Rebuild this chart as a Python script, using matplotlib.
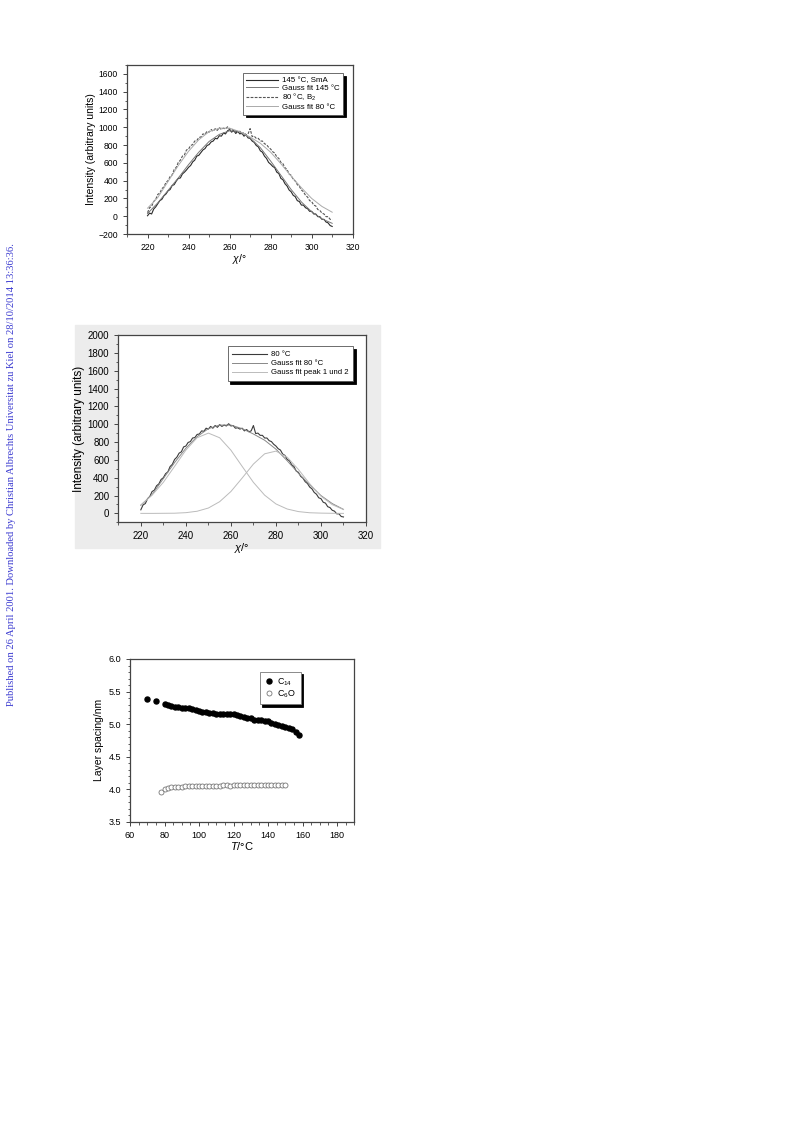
import numpy as np
import matplotlib
matplotlib.use('Agg')
import matplotlib.pyplot as plt
from matplotlib.patches import Rectangle
from matplotlib.ticker import MultipleLocator

plt.rcParams['font.family'] = ['Liberation Sans', 'DejaVu Sans']
plt.rcParams['mathtext.fontset'] = 'custom'
plt.rcParams['mathtext.it'] = 'Liberation Sans:italic'
plt.rcParams['mathtext.rm'] = 'Liberation Sans'

# --- data: azimuthal scans (1 degree steps, 220..310) ---
chi = list(range(220, 311))
i_145 = [5, 35, 25, 80, 105, 140, 175, 190, 230, 250,
         285, 300, 345, 355, 395, 425, 430, 475, 495, 520,
         550, 570, 610, 630, 675, 685, 715, 745, 760, 795,
         805, 835, 845, 875, 870, 905, 900, 935, 925, 960,
         975, 945, 965, 930, 955, 925, 935, 900, 915, 880,
         875, 845, 830, 795, 780, 735, 720, 675, 650, 605,
         585, 560, 545, 495, 480, 425, 410, 365, 340, 295,
         275, 235, 220, 175, 165, 125, 125, 95, 85, 55,
         55, 25, 25, -5, -5, -35, -35, -65, -75, -105, -115]
i_80 = [40, 95, 110, 165, 190, 245, 260, 310, 330, 380,
        400, 445, 465, 525, 550, 605, 630, 675, 690, 745,
        755, 795, 805, 845, 850, 885, 890, 925, 920, 955,
        945, 975, 955, 985, 965, 995, 975, 990, 980, 1005,
        980, 985, 955, 960, 945, 955, 925, 940, 915, 925,
        985, 895, 900, 875, 875, 845, 845, 815, 805, 775,
        755, 725, 710, 665, 650, 605, 590, 545, 525, 475,
        460, 415, 395, 355, 335, 295, 275, 235, 215, 175,
        165, 125, 115, 75, 65, 35, 25, -5, -5, -35, -40]

# fits, 5 degree steps
chi_fit = list(range(220, 311, 5))
fit_145 = [30, 150, 290, 430, 580, 720, 840, 920, 960, 950,
           880, 770, 620, 460, 300, 160, 50, -30, -80]
fit_80 = [90, 210, 390, 570, 730, 860, 950, 990, 990, 950,
          890, 820, 720, 590, 450, 320, 200, 110, 45]
peak_1 = [95, 204, 348, 527, 709, 848, 900, 848, 709, 527,
          348, 204, 106, 49, 20, 7, 3, 1, 0]
peak_2 = [0, 0, 1, 2, 8, 24, 60, 131, 245, 396,
          553, 668, 698, 630, 492, 332, 193, 98, 43]

# --- data: layer spacing vs temperature ---
t_c14 = [70, 75] + list(range(80, 159, 2))
d_c14 = [5.39, 5.36,
         5.31, 5.29, 5.28, 5.27, 5.26, 5.25, 5.24, 5.24, 5.23, 5.22,
         5.20, 5.19, 5.18, 5.17, 5.17, 5.16, 5.16, 5.16, 5.16, 5.16,
         5.15, 5.14, 5.12, 5.11, 5.10, 5.09, 5.07, 5.06, 5.06, 5.05,
         5.04, 5.02, 5.00, 4.98, 4.97, 4.95, 4.94, 4.92, 4.88, 4.83]
t_c6o = list(range(78, 151, 2))
d_c6o = [3.96, 4.00, 4.02, 4.03, 4.04, 4.04, 4.04, 4.05, 4.05, 4.05,
         4.05, 4.05, 4.05, 4.05, 4.05, 4.05, 4.05, 4.05, 4.07, 4.07,
         4.05, 4.06, 4.06, 4.06, 4.06, 4.06, 4.06, 4.06, 4.06, 4.06,
         4.06, 4.06, 4.06, 4.06, 4.06, 4.06, 4.06]

fig = plt.figure(figsize=(7.93, 11.21), dpi=100)

# grey panel behind the second chart
fig.patches.append(Rectangle((75 / 793, 1 - 548 / 1121), 305 / 793, 223 / 1121,
                             transform=fig.transFigure, color='#ececec', zorder=-10))

def style_axes(ax, fs):
    for s in ax.spines.values():
        s.set_color('#444444')
        s.set_linewidth(0.9)
    ax.tick_params(which='both', direction='out', labelsize=fs, color='#444444',
                   top=False, right=False)
    ax.tick_params(which='major', length=3, width=0.7)
    ax.tick_params(which='minor', length=1.8, width=0.6)

def boxed_legend(ax, fs, anchor, hl, ls, bp, edge):
    leg = ax.legend(loc='upper right', fontsize=fs, frameon=True, fancybox=False,
                    shadow={'color': 'k', 'alpha': 1}, handlelength=hl,
                    borderpad=bp, labelspacing=ls, handletextpad=0.5,
                    bbox_to_anchor=anchor)
    leg.get_frame().set_edgecolor(edge)
    leg.get_frame().set_linewidth(0.6)
    return leg

# chart 1
ax1 = fig.add_axes([127 / 793, 1 - 234 / 1121, 225.7 / 793, 169 / 1121])
ax1.plot(chi, i_145, color='#2a2a2a', lw=0.8, label='145 °C, SmA')
ax1.plot(chi_fit, fit_145, color='#777777', lw=0.7, label='Gauss fit 145 °C')
ax1.plot(chi, i_80, color='#555555', lw=0.8, ls=(0, (2.5, 1.2)), label='80 °C, B$_2$')
ax1.plot(chi_fit, fit_80, color='#aaaaaa', lw=0.7, label='Gauss fit 80 °C')
ax1.set_xlim(210, 320)
ax1.set_ylim(-200, 1700)
ax1.xaxis.set_major_locator(MultipleLocator(20))
ax1.xaxis.set_minor_locator(MultipleLocator(10))
ax1.set_yticks(np.arange(-200, 1601, 200))
ax1.yaxis.set_minor_locator(MultipleLocator(100))
style_axes(ax1, 6.2)
ax1.set_ylabel('Intensity (arbitrary units)', fontsize=7.5, labelpad=2)
ax1.set_xlabel(r'$\chi$/°', fontsize=7.5, labelpad=0)
boxed_legend(ax1, 5.7, (0.975, 0.975), 4, 0.02, 0.45, '#555555')

# chart 2
ax2 = fig.add_axes([118.3 / 793, 1 - 522.3 / 1121, 247.7 / 793, 187.3 / 1121])
ax2.plot(chi, i_80, color='#3a3a3a', lw=0.8, label='80 °C')
ax2.plot(chi_fit, fit_80, color='#888888', lw=0.7, label='Gauss fit 80 °C')
ax2.plot(chi_fit, peak_1, color='#bbbbbb', lw=0.7, label='Gauss fit peak 1 und 2')
ax2.plot(chi_fit, peak_2, color='#bbbbbb', lw=0.7)
ax2.set_xlim(210, 320)
ax2.set_ylim(-100, 2000)
ax2.xaxis.set_major_locator(MultipleLocator(20))
ax2.xaxis.set_minor_locator(MultipleLocator(10))
ax2.set_yticks(np.arange(0, 2001, 200))
ax2.yaxis.set_minor_locator(MultipleLocator(100))
style_axes(ax2, 7)
ax2.set_ylabel('Intensity (arbitrary units)', fontsize=8.5, labelpad=2)
ax2.set_xlabel(r'$\chi$/°', fontsize=8, labelpad=0)
boxed_legend(ax2, 5.6, (0.965, 0.96), 4.5, 0.2, 0.6, '#555555')

# chart 3
ax3 = fig.add_axes([130 / 793, 1 - 821.7 / 1121, 224.3 / 793, 162.7 / 1121])
ax3.plot(t_c14, d_c14, 'o', ms=3.6, color='k', label='C$_{14}$')
ax3.plot(t_c6o, d_c6o, 'o', ms=3.6, mfc='white', mec='#777777', mew=0.6,
         label='C$_6$O')
ax3.set_xlim(60, 190)
ax3.set_ylim(3.5, 6.0)
ax3.set_xticks(np.arange(60, 181, 20))
ax3.xaxis.set_minor_locator(MultipleLocator(5))
ax3.yaxis.set_major_locator(MultipleLocator(0.5))
ax3.yaxis.set_minor_locator(MultipleLocator(0.1))
ax3.yaxis.set_major_formatter(plt.FormatStrFormatter('%.1f'))
style_axes(ax3, 6.5)
ax3.set_ylabel('Layer spacing/nm', fontsize=7.5, labelpad=3)
ax3.set_xlabel('$T$/°C', fontsize=8, labelpad=0)
boxed_legend(ax3, 6.4, (0.78, 0.95), 1, 0.1, 0.5, '#777777')

# download stamp on the left margin
fig.text(12 / 793, 1 - 475 / 1121,
         'Published on 26 April 2001. Downloaded by Christian Albrechts Universitat zu Kiel on 28/10/2014 13:36:36.',
         rotation=90, ha='center', va='center', fontsize=7.6, color='#3b3bd0',
         family=['Liberation Serif', 'DejaVu Serif'])

fig.savefig('out.png', dpi=100)
